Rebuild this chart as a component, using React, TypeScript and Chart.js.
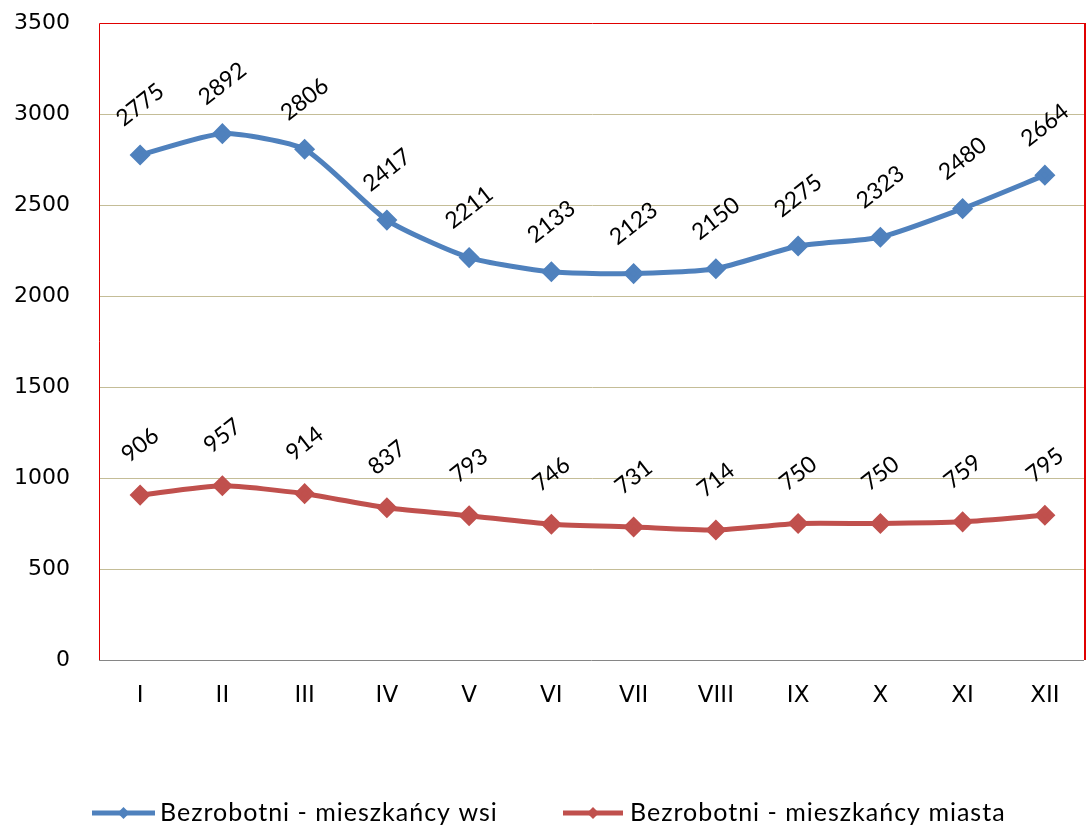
import React, { useEffect, useRef } from "react";
import { Chart, registerables } from "chart.js";

Chart.register(...registerables);

const months = ["I", "II", "III", "IV", "V", "VI", "VII", "VIII", "IX", "X", "XI", "XII"];
const rural = [2775, 2892, 2806, 2417, 2211, 2133, 2123, 2150, 2275, 2323, 2480, 2664];
const urban = [906, 957, 914, 837, 793, 746, 731, 714, 750, 750, 759, 795];
const yTicks = [0, 500, 1000, 1500, 2000, 2500, 3000, 3500];
const seriesNames = ["Bezrobotni - mieszkańcy wsi", "Bezrobotni - mieszkańcy miasta"];
const seriesColors = ["#4F81BD", "#C0504D"];

const framePlugin = {
  id: "frame",
  afterDraw(chart: any) {
    const { ctx, chartArea } = chart;
    const { left, right, top, bottom } = chartArea;
    ctx.save();
    ctx.strokeStyle = "#E00000";
    ctx.lineWidth = 1;
    ctx.beginPath();
    ctx.moveTo(left + 0.5, bottom);
    ctx.lineTo(left + 0.5, top + 0.5);
    ctx.lineTo(right - 0.5, top + 0.5);
    ctx.stroke();
    ctx.lineWidth = 2;
    ctx.beginPath();
    ctx.moveTo(right - 1, top);
    ctx.lineTo(right - 1, bottom);
    ctx.stroke();
    ctx.strokeStyle = "#868686";
    ctx.lineWidth = 1;
    ctx.beginPath();
    ctx.moveTo(left, bottom + 0.5);
    ctx.lineTo(right - 2, bottom + 0.5);
    ctx.stroke();

    ctx.fillStyle = "#000";
    ctx.font = "23px Lato";
    ctx.textAlign = "center";
    ctx.textBaseline = "middle";
    chart.data.datasets.forEach((ds: any, i: number) => {
      const meta = chart.getDatasetMeta(i);
      meta.data.forEach((pt: any, j: number) => {
        ctx.save();
        ctx.translate(pt.x, pt.y - 50);
        ctx.rotate((-38 * Math.PI) / 180);
        ctx.fillText(String(ds.data[j]), 0, 0);
        ctx.restore();
      });
    });

    const ly = 813;
    const items = [
      { x1: 92, x2: 155, tx: 160 },
      { x1: 563, x2: 623, tx: 630 },
    ];
    items.forEach((it, i) => {
      ctx.strokeStyle = seriesColors[i];
      ctx.fillStyle = seriesColors[i];
      ctx.lineWidth = 5;
      ctx.beginPath();
      ctx.moveTo(it.x1, ly);
      ctx.lineTo(it.x2, ly);
      ctx.stroke();
      const cx = (it.x1 + it.x2) / 2;
      ctx.beginPath();
      ctx.moveTo(cx, ly - 6);
      ctx.lineTo(cx + 6, ly);
      ctx.lineTo(cx, ly + 6);
      ctx.lineTo(cx - 6, ly);
      ctx.closePath();
      ctx.fill();
      ctx.fillStyle = "#000";
      ctx.font = "25px Lato";
      (ctx as any).letterSpacing = "1px";
      ctx.textAlign = "left";
      ctx.textBaseline = "middle";
      ctx.fillText(seriesNames[i], it.tx, ly);
      (ctx as any).letterSpacing = "0px";
    });
    ctx.restore();
  },
};

const zeroPad = (s: any) => {
  s.paddingTop = 0;
  s.paddingBottom = 0;
  s.paddingLeft = 0;
  s.paddingRight = 0;
};

export default function App() {
  const ref = useRef<HTMLCanvasElement>(null);
  useEffect(() => {
    document.body.style.margin = "0";
    const chart = new Chart(ref.current!, {
      type: "line",
      data: {
        labels: months,
        datasets: [
          {
            label: seriesNames[0],
            data: rural,
            borderColor: seriesColors[0],
            backgroundColor: seriesColors[0],
            borderWidth: 5,
            pointStyle: "rectRot",
            pointRadius: 7,
            tension: 0.2,
          },
          {
            label: seriesNames[1],
            data: urban,
            borderColor: seriesColors[1],
            backgroundColor: seriesColors[1],
            borderWidth: 5,
            pointStyle: "rectRot",
            pointRadius: 7,
            tension: 0.2,
          },
        ],
      },
      options: {
        responsive: false,
        animation: false,
        layout: { autoPadding: false, padding: { left: 0, right: 2, top: 23, bottom: 0 } },
        plugins: { legend: { display: false }, tooltip: { enabled: false } },
        scales: {
          x: {
            offset: true,
            grid: { display: false, drawTicks: false },
            border: { display: false },
            ticks: { color: "#000", font: { family: "DejaVu Sans", size: 23 }, padding: 22, maxRotation: 0, autoSkip: false },
            afterFit: (s: any) => {
              s.height = 171;
              zeroPad(s);
            },
          },
          y: {
            min: yTicks[0],
            max: yTicks[yTicks.length - 1],
            afterBuildTicks: (s: any) => {
              s.ticks = yTicks.map((v) => ({ value: v }));
            },
            grid: {
              drawTicks: false,
              color: (c: any) => (c.tick && c.tick.value > 0 && c.tick.value < 3500 ? "#C4BD97" : "rgba(0,0,0,0)"),
            },
            border: { display: false },
            ticks: {
              color: "#000",
              font: { family: "DejaVu Sans", size: 22 },
              padding: 29,
              callback: (v: any) => String(v),
            },
            afterFit: (s: any) => {
              s.width = 99;
              zeroPad(s);
            },
          },
        },
      },
      plugins: [framePlugin],
    });
    return () => chart.destroy();
  }, []);
  return (
    <div style={{ position: "fixed", left: 0, top: 0, width: 1088, height: 831, background: "#fff" }}>
      <canvas ref={ref} width={1088} height={831} />
    </div>
  );
}
